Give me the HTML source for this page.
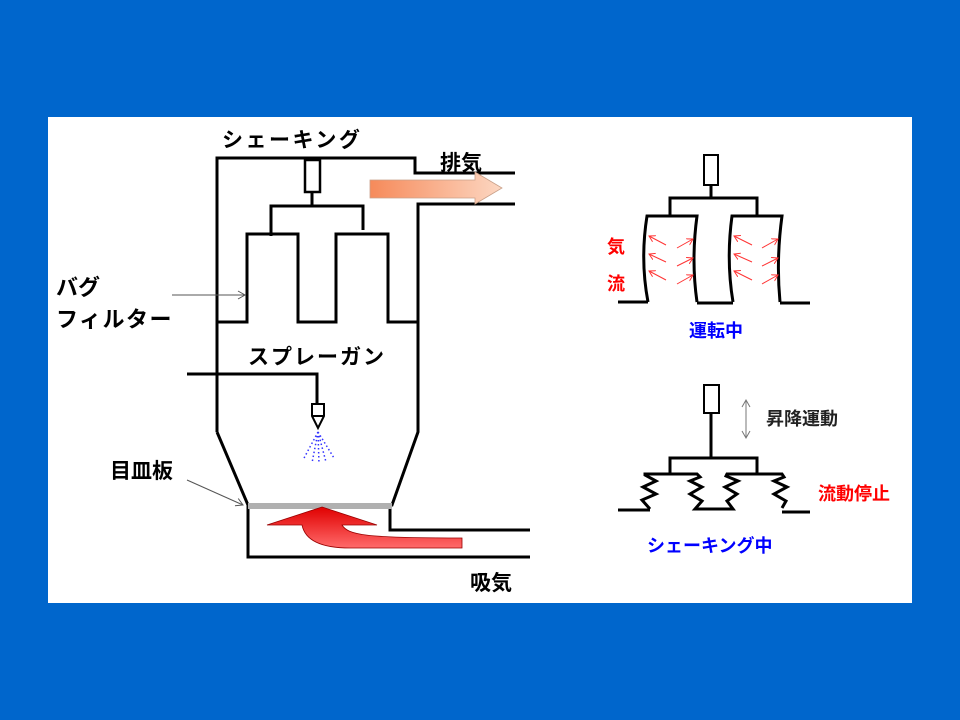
<!DOCTYPE html>
<html><head><meta charset="utf-8"><style>
html,body{margin:0;padding:0;background:#0066CC;}
svg{display:block}
text{font-family:"Liberation Sans","Noto Sans CJK JP",sans-serif;font-weight:bold}
</style></head><body>
<svg width="960" height="720" viewBox="0 0 960 720" xmlns="http://www.w3.org/2000/svg">
<defs>
<linearGradient id="og" x1="0" x2="1" y1="0" y2="0"><stop offset="0" stop-color="#F68A5A"/><stop offset="1" stop-color="#FCD7C2"/></linearGradient>
<linearGradient id="rg" x1="0" x2="0" y1="0" y2="1"><stop offset="0" stop-color="#E00000"/><stop offset="1" stop-color="#FF6A6A"/></linearGradient>
<marker id="ah" markerWidth="10" markerHeight="10" refX="8" refY="5" orient="auto" markerUnits="userSpaceOnUse"><path d="M1,1 L8,5 L1,9" fill="none" stroke="#555" stroke-width="1"/></marker>
<marker id="rh" markerWidth="8" markerHeight="8" refX="6" refY="4" orient="auto" markerUnits="userSpaceOnUse"><path d="M0,0.5 L6,4 L0,7.5" fill="none" stroke="#f33" stroke-width="1"/></marker>
</defs>
<rect x="48" y="117" width="864" height="486" fill="#fff"/>
<g fill="none" stroke="#000" stroke-width="3" stroke-linejoin="miter">
<polyline points="217,432 217,158 415,158 415,173 515,173"/>
<polyline points="515,204 418,204 418,432 392,505 390,505 390,530 530,530"/>
<polyline points="217,432 248,505 248,557 530,557"/>
<polyline points="217,322 247,322 247,234 298,234 298,322 336,322 336,234 388,234 388,322 418,322"/>
<rect x="305" y="160" width="15" height="32" stroke-width="2.5"/>
<line x1="312" y1="192" x2="312" y2="206"/>
<polyline points="271,236 271,206 363,206 363,230"/>
<polyline points="187,374 317,374 317,405"/>
</g>
<path d="M312,404 L324,404 L324,416 L318,428 L312,416 Z M312,416 L324,416" fill="#fff" stroke="#000" stroke-width="2"/>
<g stroke="#33f" stroke-width="1.5" stroke-dasharray="1.5,2.5" fill="none">
<line x1="318" y1="432" x2="303" y2="460"/><line x1="318" y1="432" x2="312" y2="463"/><line x1="318" y1="432" x2="319" y2="464"/><line x1="318" y1="432" x2="326" y2="462"/><line x1="318" y1="432" x2="334" y2="458"/>
</g>
<rect x="248" y="503" width="144" height="6" fill="#B0B0B0"/>
<path d="M322,507 L377,525 L342,525 C348,535 365,538 462,538 L462,548 L350,548 C320,548 305,540 302,525 L267,525 Z" fill="url(#rg)" stroke="#900" stroke-width="0.8"/>
<path d="M370,180 L475,180 L475,172 L502,188 L475,204 L475,198 L370,198 Z" fill="url(#og)" stroke="#C9A089" stroke-width="0.8"/>
<line x1="172" y1="295" x2="245" y2="295" stroke="#555" stroke-width="1" marker-end="url(#ah)"/>
<line x1="187" y1="480" x2="243" y2="505" stroke="#555" stroke-width="1" marker-end="url(#ah)"/>
<text x="222" y="147" font-size="21" letter-spacing="2.5">シェーキング</text>
<text x="440" y="170" font-size="21">排気</text>
<text x="56" y="295" font-size="22">バグ</text>
<text x="56" y="327" font-size="22" letter-spacing="1.5">フィルター</text>
<text x="248" y="364" font-size="21" letter-spacing="2">スプレーガン</text>
<text x="110" y="478" font-size="21">目皿板</text>
<text x="470" y="590" font-size="21">吸気</text>

<g fill="none" stroke="#000" stroke-width="3">
<rect x="704" y="155" width="14" height="30" stroke-width="2"/>
<line x1="711" y1="185" x2="711" y2="198"/>
<polyline points="670,215 670,198 757,198 757,215"/>
<path d="M648,302 Q640,260 647,216 L697,216 Q691,260 697,302"/>
<path d="M733,302 Q726,260 732,216 L782,216 Q776,260 780,302"/>
<line x1="618" y1="302" x2="648" y2="302"/>
<line x1="697" y1="303" x2="733" y2="303"/>
<line x1="780" y1="303" x2="810" y2="303"/>
</g>
<g stroke="#f33" stroke-width="1" marker-end="url(#rh)">
<line x1="666" y1="245" x2="649" y2="236"/><line x1="666" y1="262" x2="649" y2="254"/><line x1="666" y1="280" x2="649" y2="271"/>
<line x1="677" y1="248" x2="693" y2="239"/><line x1="677" y1="266" x2="693" y2="258"/><line x1="677" y1="284" x2="693" y2="275"/>
<line x1="752" y1="245" x2="734" y2="236"/><line x1="752" y1="262" x2="734" y2="254"/><line x1="752" y1="280" x2="734" y2="271"/>
<line x1="762" y1="248" x2="778" y2="239"/><line x1="762" y1="266" x2="778" y2="258"/><line x1="762" y1="284" x2="778" y2="275"/>
</g>
<text x="607" y="253" font-size="18" fill="#f00">気</text>
<text x="607" y="290" font-size="18" fill="#f00">流</text>
<text x="689" y="337" font-size="18" fill="#00f">運転中</text>

<g fill="none" stroke="#000" stroke-width="3">
<rect x="704" y="385" width="15" height="28" stroke-width="2"/>
<line x1="711" y1="413" x2="711" y2="458"/>
<polyline points="670,474 670,458 757,458 757,474"/>
<path d="M650,509 L642,500 L656,494 L643,487 L656,481 L645,475 L645,474 L697,474 L700,477 L690,481 L702,487 L690,494 L702,501 L695,509 L733,509 L727,501 L737,494 L725,487 L738,481 L726,476 L727,474 L782,474 L784,477 L774,481 L787,487 L774,494 L786,501 L782,508"/>
<line x1="618" y1="510" x2="650" y2="510"/>
<line x1="782" y1="512" x2="810" y2="512"/>
</g>
<g stroke="#777" stroke-width="1" fill="none">
<line x1="746" y1="401" x2="746" y2="437"/>
<path d="M742,407 L746,400 L750,407 M742,431 L746,438 L750,431"/>
</g>
<text x="766" y="425" font-size="18" fill="#222">昇降運動</text>
<text x="818" y="500" font-size="18" fill="#f00">流動停止</text>
<text x="647" y="552" font-size="18" fill="#00f">シェーキング中</text>
</svg>
</body></html>
